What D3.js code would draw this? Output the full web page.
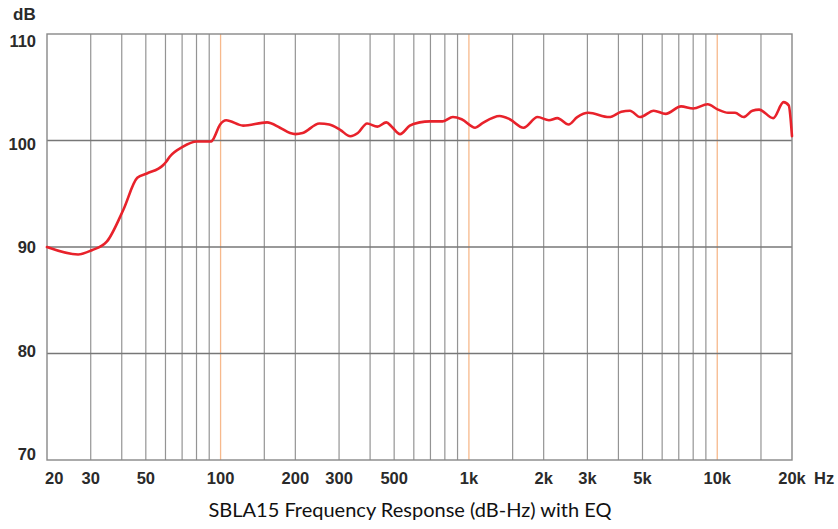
<!DOCTYPE html>
<html>
<head>
<meta charset="utf-8">
<script src="https://cdn.jsdelivr.net/npm/d3@7"></script>
<style>
  html, body { margin: 0; padding: 0; background: #fff; }
  svg { display: block; }
</style>
</head>
<body>
<svg id="chart" width="838" height="529"></svg>
<script>
// ---- data ----
const freqs = [20, 26.7, 30.3, 34.8, 40.6, 46.2, 50.5, 58.8, 60.4, 62.5, 70.3, 80.2, 91.8, 93.3, 99.6, 105.3, 123.2, 153.8, 173.4, 190.4, 200, 214, 250, 274, 303, 333, 357, 389, 428, 465, 489, 528, 578, 634, 697, 785, 862, 935, 1060, 1130, 1330, 1460, 1660, 1890, 2100, 2270, 2520, 2730, 3030, 3670, 4110, 4450, 4890, 5550, 6200, 7150, 8000, 9150, 10070, 11050, 11790, 12770, 13850, 14750, 16800, 18500, 19400, 20000];
const levels = [90.0, 89.3, 89.7, 90.5, 93.5, 96.5, 96.9, 97.7, 98.0, 98.5, 99.4, 99.9, 99.9, 100.1, 101.5, 101.9, 101.4, 101.7, 101.2, 100.7, 100.6, 100.7, 101.6, 101.5, 101.0, 100.4, 100.7, 101.6, 101.3, 101.7, 101.3, 100.6, 101.4, 101.7, 101.8, 101.8, 102.2, 102.0, 101.2, 101.6, 102.3, 102.0, 101.2, 102.2, 101.9, 102.1, 101.5, 102.2, 102.6, 102.2, 102.7, 102.8, 102.2, 102.8, 102.5, 103.2, 103.0, 103.4, 102.9, 102.6, 102.6, 102.2, 102.8, 102.9, 102.1, 103.6, 103.3, 100.4];
const gridFreqs = [30, 40, 50, 60, 70, 80, 90, 150, 200, 300, 400, 500, 600, 700, 800, 900, 1500, 2000, 3000, 4000, 5000, 6000, 7000, 8000, 9000, 15000];
const decadeFreqs = [100, 1000, 10000];
const xTickValues = [20, 30, 50, 100, 200, 300, 500, 1000, 2000, 3000, 5000, 10000, 20000];
const xTickLabels = ["20", "30", "50", "100", "200", "300", "500", "1k", "2k", "3k", "5k", "10k", "20k"];
const yTickValues = [110, 100, 90, 80, 70];
const yGridValues = [100, 90, 80];
const title = "SBLA15 Frequency Response (dB-Hz) with EQ";

// ---- layout ----
const svg = d3.select("#chart");
const L = 47, R = 792, T = 34, B = 460;
const x = d3.scaleLog().domain([20, 20000]).range([L, R]);
const y = d3.scaleLinear().domain([70, 110]).range([B, T]);
const yLab = d3.scaleLinear().domain([110, 70]).range([41, 454]);

const g = svg.append("g");

// vertical grid
g.selectAll("line.vg").data(gridFreqs).enter().append("line")
  .attr("x1", d => x(d)).attr("x2", d => x(d))
  .attr("y1", T).attr("y2", B)
  .attr("stroke", "#949494").attr("stroke-width", 1.2);

g.selectAll("line.dg").data(decadeFreqs).enter().append("line")
  .attr("x1", d => x(d)).attr("x2", d => x(d))
  .attr("y1", T).attr("y2", B)
  .attr("stroke", "#f7b98c").attr("stroke-width", 1.3);

// horizontal grid
g.selectAll("line.hg").data(yGridValues).enter().append("line")
  .attr("x1", L).attr("x2", R)
  .attr("y1", d => y(d)).attr("y2", d => y(d))
  .attr("stroke", "#777").attr("stroke-width", 1.4);

// frame
g.append("rect").attr("x", L).attr("y", T).attr("width", R - L).attr("height", B - T)
  .attr("fill", "none").attr("stroke", "#888").attr("stroke-width", 1.4);

// curve
const line = d3.line().x((d, i) => x(freqs[i])).y(d => y(d)).curve(d3.curveMonotoneX);
g.append("path").datum(levels)
  .attr("d", line)
  .attr("fill", "none").attr("stroke", "#e8222b").attr("stroke-width", 2.6)
  .attr("stroke-linejoin", "round").attr("stroke-linecap", "round");

// y labels
const font = "'Liberation Sans', Arial, Helvetica, sans-serif";
g.selectAll("text.yl").data(yTickValues).enter().append("text")
  .attr("x", 36).attr("y", d => yLab(d)).attr("dy", "0.36em")
  .attr("text-anchor", "end")
  .attr("font-family", font).attr("font-weight", "bold").attr("font-size", 16.5)
  .attr("fill", "#2a2a2a").text(d => d);

g.append("text").attr("x", 13).attr("y", 20)
  .attr("font-family", font).attr("font-weight", "bold").attr("font-size", 17)
  .attr("fill", "#2a2a2a").text("dB");

// x labels
g.selectAll("text.xl").data(xTickValues).enter().append("text")
  .attr("x", (d, i) => i === 0 ? x(d) - 2 : x(d))
  .attr("y", 484)
  .attr("text-anchor", (d, i) => i === 0 ? "start" : "middle")
  .attr("font-family", font).attr("font-weight", "bold").attr("font-size", 16.5)
  .attr("fill", "#2a2a2a").text((d, i) => xTickLabels[i]);

g.append("text").attr("x", x(20000) + 22).attr("y", 484)
  .attr("font-family", font).attr("font-weight", "bold").attr("font-size", 16.5)
  .attr("fill", "#2a2a2a").text("Hz");

// title
g.append("text").attr("x", 410).attr("y", 517)
  .attr("text-anchor", "middle")
  .attr("font-family", "Lato, 'Open Sans', sans-serif").attr("font-size", 20)
  .attr("fill", "#111").text(title);
</script>
</body>
</html>
